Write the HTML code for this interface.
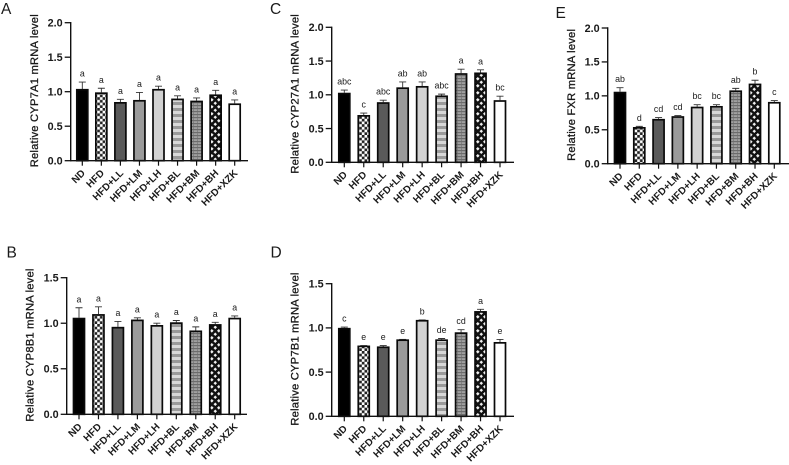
<!DOCTYPE html>
<html lang="en">
<head>
<meta charset="utf-8">
<title>mRNA levels</title>
<style>
html,body{margin:0;padding:0;background:#fff;width:789px;height:465px;overflow:hidden}
svg{display:block;filter:blur(0.35px)}
text{font-family:"Liberation Sans",Arial,sans-serif;fill:#1a1a1a}
</style>
</head>
<body>
<svg id="figure" width="789" height="465" viewBox="0 0 789 465" xmlns="http://www.w3.org/2000/svg">
<defs>
<pattern id="p-checker" width="5.4" height="5.4" patternUnits="userSpaceOnUse"><rect width="5.4" height="5.4" fill="#fff"/><rect width="2.7" height="2.7" fill="#222"/><rect x="2.7" y="2.7" width="2.7" height="2.7" fill="#222"/></pattern>
<pattern id="p-stripes" width="6" height="6" patternUnits="userSpaceOnUse"><rect width="6" height="6" fill="#d8d8d8"/><rect width="6" height="3" fill="#9a9a9a"/></pattern>
<pattern id="p-brick" width="4" height="3" patternUnits="userSpaceOnUse"><rect width="4" height="3" fill="#a0a0a0"/><rect width="4" height="1.2" fill="#6c6c6c"/><rect x="1" y="1.2" width="1" height="1.8" fill="#808080"/></pattern>
<pattern id="p-diamond" width="7" height="7" patternUnits="userSpaceOnUse"><rect width="7" height="7" fill="#111"/><path d="M1.8 0 L3.6 1.8 L1.8 3.6 L0 1.8Z M5.3 3.5 L7 5.2 L5.3 7 L3.5 5.2Z" fill="#f0f0f0"/></pattern>
</defs>
</svg>
<script>
const categories = ['ND','HFD','HFD+LL','HFD+LM','HFD+LH','HFD+BL','HFD+BM','HFD+BH','HFD+XZK'];

const valuesA = [1.04,0.99,0.85,0.88,1.04,0.90,0.87,0.96,0.83];
const errorsA = [0.10,0.06,0.04,0.11,0.04,0.04,0.04,0.06,0.05];
const lettersA = ['a','a','a','a','a','a','a','a','a'];

const valuesB = [1.06,1.10,0.96,1.04,0.98,1.01,0.92,0.99,1.06];
const errorsB = [0.11,0.08,0.06,0.02,0.02,0.02,0.04,0.02,0.02];
const lettersB = ['a','a','a','a','a','a','a','a','a'];

const valuesC = [1.03,0.70,0.89,1.11,1.13,0.99,1.32,1.33,0.92];
const errorsC = [0.04,0.03,0.03,0.08,0.06,0.02,0.06,0.04,0.06];
const lettersC = ['abc','c','abc','ab','ab','abc','a','a','bc'];

const valuesD = [1.00,0.80,0.79,0.87,1.09,0.87,0.95,1.19,0.84];
const errorsD = [0.01,0.00,0.01,0.00,0.00,0.01,0.03,0.02,0.03];
const lettersD = ['c','e','e','e','b','de','cd','a','e'];

const valuesE = [1.06,0.54,0.66,0.70,0.84,0.85,1.08,1.18,0.91];
const errorsE = [0.06,0.01,0.02,0.01,0.03,0.02,0.03,0.05,0.02];
const lettersE = ['ab','d','cd','cd','bc','bc','ab','b','c'];

const ticksTwo = ['0.0','0.5','1.0','1.5','2.0'];
const ticksOneFive = ['0.0','0.5','1.0','1.5'];

const fills = ['#000','url(#p-checker)','#5a5a5a','#9b9b9b','#d2d2d2','url(#p-stripes)','url(#p-brick)','url(#p-diamond)','#fff'];

const panels = [
  {id:'a',letter:'A',title:'Relative CYP7A1 mRNA level',values:valuesA,errors:errorsA,letters:lettersA,ticks:ticksTwo,
   axisX:70.7,top:22.7,base:160.7,first:82.3,last:234.7,end:248,titleX:38,letterX:1,letterY:14},
  {id:'b',letter:'B',title:'Relative CYP8B1 mRNA level',values:valuesB,errors:errorsB,letters:lettersB,ticks:ticksOneFive,
   axisX:66.7,top:277.7,base:414.3,first:79,last:234.7,end:247,titleX:33.5,letterX:6.5,letterY:257.7},
  {id:'c',letter:'C',title:'Relative CYP27A1 mRNA level',values:valuesC,errors:errorsC,letters:lettersC,ticks:ticksTwo,
   axisX:331.7,top:27.3,base:162.3,first:344.3,last:500,end:514,titleX:298.5,letterX:270,letterY:14},
  {id:'d',letter:'D',title:'Relative CYP7B1 mRNA level',values:valuesD,errors:errorsD,letters:lettersD,ticks:ticksOneFive,
   axisX:331.7,top:283.7,base:416.3,first:344.3,last:500,end:514,titleX:298.5,letterX:270.5,letterY:257.7},
  {id:'e',letter:'E',title:'Relative FXR mRNA level',values:valuesE,errors:errorsE,letters:lettersE,ticks:ticksTwo,
   axisX:607.7,top:28,base:163.7,first:620,last:774.3,end:789,titleX:575,letterX:555.5,letterY:18}
];

const SVGNS = 'http://www.w3.org/2000/svg';
function mk(parent, tag, attrs, txt){
  const el = document.createElementNS(SVGNS, tag);
  for (const k in attrs) el.setAttribute(k, attrs[k]);
  if (txt !== undefined) el.textContent = txt;
  parent.appendChild(el);
  return el;
}
const root = document.getElementById('figure');

panels.forEach(function(p){
  const g = mk(root, 'g', {});
  
  

  const maxV = parseFloat(p.ticks[p.ticks.length - 1]);
  const yScale = function(v){ return p.base - (v / maxV) * (p.base - p.top); };
  const xScale = function(i){ return p.first + i * (p.last - p.first) / (categories.length - 1); };
  const barW = 11;
  const inset = 0.8;

  const pl = mk(g, 'text', {x:p.letterX, y:p.letterY, 'font-size':15.5, fill:'#222'}, p.letter);
  
  

  const cy = (p.top + p.base) / 2 - 1;
  const title = mk(g, 'text', {x:p.titleX, y:cy, 'font-size':11.2, 'text-anchor':'middle', transform:'rotate(-90 ' + p.titleX + ' ' + cy + ')', 'letter-spacing':'0.2', stroke:'#1a1a1a', 'stroke-width':0.3});
  title.textContent = p.title;
  
  

  p.values.forEach(function(v, i){
    const cx = xScale(i);
    const topV = v + p.errors[i];
    const err = mk(g, 'path', {d:'M' + (cx - 3.5) + ' ' + yScale(topV) + 'H' + (cx + 3.5) + 'M' + cx + ' ' + yScale(topV) + 'V' + yScale(v), stroke:'#333', 'stroke-width':0.9, fill:'none'});
    
    

    const barTop = yScale(v) + inset;
    const bar = mk(g, 'rect', {x:cx - barW / 2, y:barTop, width:barW, height:p.base - barTop, fill:fills[i], stroke:'#0a0a0a', 'stroke-width':1.7});
    
    

    const sig = mk(g, 'text', {x:cx, y:yScale(topV) - 5.5, 'font-size':8.8, 'text-anchor':'middle', fill:'#333'}, p.letters[i]);
    
    

    const tick = mk(g, 'line', {x1:cx, x2:cx, y1:p.base, y2:p.base + 5, stroke:'#111', 'stroke-width':1.2});
    
    

    const tx = cx + 3.5;
    const ty = p.base + 13;
    const lab = mk(g, 'text', {x:tx, y:ty, 'font-size':10, 'font-weight':'700', 'text-anchor':'end', transform:'rotate(-45 ' + tx + ' ' + ty + ')', fill:'#222'}, categories[i]);
    
    
  });

  p.ticks.forEach(function(t, i){
    const y = yScale(parseFloat(t));
    const tk = mk(g, 'line', {x1:p.axisX - 6, x2:p.axisX, y1:y, y2:y, stroke:'#111', 'stroke-width':1.3});
    
    
    const tl = mk(g, 'text', {x:p.axisX - 8, y:y + 3.8, 'font-size':10.8, 'font-weight':'700', 'text-anchor':'end', fill:'#222'}, t);
    
    
  });

  const ya = mk(g, 'line', {x1:p.axisX, x2:p.axisX, y1:p.top - 0.7, y2:p.base + 0.7, stroke:'#111', 'stroke-width':1.4});
  
  
  const xa = mk(g, 'line', {x1:p.axisX, x2:p.end, y1:p.base, y2:p.base, stroke:'#111', 'stroke-width':1.4});
  
  
});
</script>
</body>
</html>
